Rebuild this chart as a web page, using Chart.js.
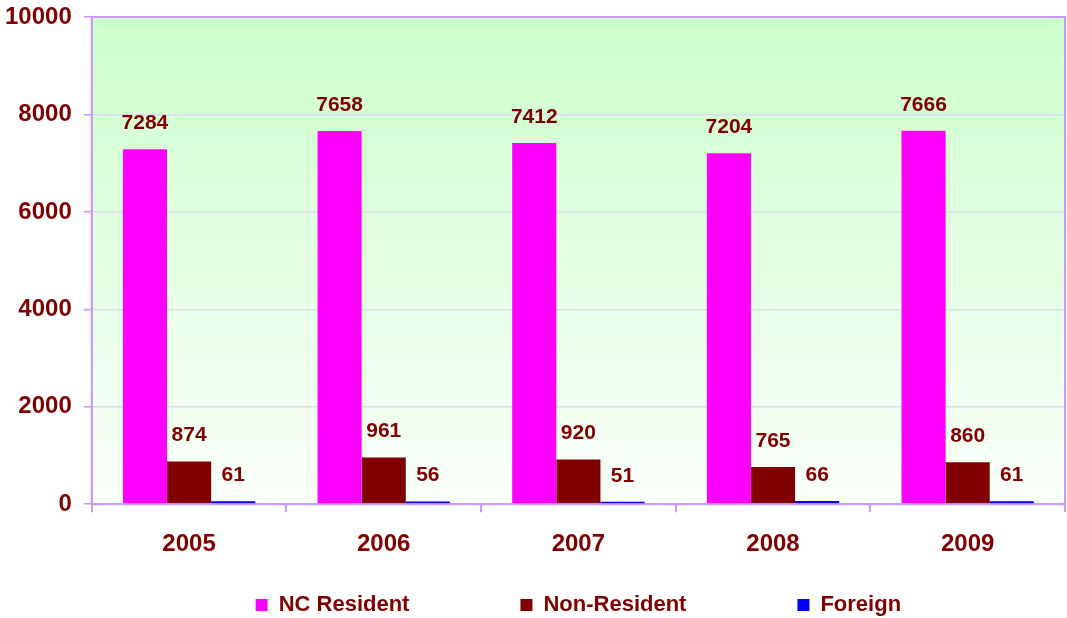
<!DOCTYPE html>
<html lang="en">
<head>
    <meta charset="UTF-8">
    <title>Resident / Non-Resident / Foreign 2005-2009</title>
    <script src="https://cdn.jsdelivr.net/npm/chart.js"></script>
    <style>
        html, body { margin: 0; padding: 0; background: #ffffff; }
        .chart-container { width: 1067px; height: 618px; position: relative; }
    </style>
</head>
<body>
    <div class="chart-container">
        <canvas id="yearChart"></canvas>
    </div>

    <script>
        const years = ['2005', '2006', '2007', '2008', '2009'];
        const ncResident = [7284, 7658, 7412, 7204, 7666];
        const nonResident = [874, 961, 920, 765, 860];
        const foreign = [61, 56, 51, 66, 61];
        const yTicks = [0, 2000, 4000, 6000, 8000, 10000];

        const labelColor = '#800000';
        const fontFamily = '"Liberation Sans", Arial, sans-serif';

        // green-to-white plot background and the lavender frame
        const plotArea = {
            id: 'plotArea',
            beforeDraw(chart) {
                const { ctx, chartArea: a } = chart;
                const g = ctx.createLinearGradient(0, a.top, 0, a.bottom);
                g.addColorStop(0, '#ccffcc');
                g.addColorStop(1, '#fafffa');
                ctx.save();
                ctx.fillStyle = g;
                ctx.fillRect(a.left, a.top, a.right - a.left, a.bottom - a.top);
                ctx.restore();
            },
            afterDraw(chart) {
                const { ctx, chartArea: a } = chart;
                ctx.save();
                ctx.strokeStyle = '#cc99ff';
                ctx.lineWidth = 2;
                ctx.strokeRect(a.left, a.top, a.right - a.left, a.bottom - a.top);
                ctx.restore();
            }
        };

        // value labels above every bar
        const barValues = {
            id: 'barValues',
            afterDatasetsDraw(chart) {
                const { ctx } = chart;
                ctx.save();
                ctx.font = 'bold 21px ' + fontFamily;
                ctx.fillStyle = labelColor;
                ctx.textAlign = 'center';
                ctx.textBaseline = 'middle';
                chart.data.datasets.forEach((ds, i) => {
                    chart.getDatasetMeta(i).data.forEach((bar, j) => {
                        ctx.fillText(String(ds.data[j]), bar.x, bar.y - 26);
                    });
                });
                ctx.restore();
            }
        };

        // wide-spaced legend under the axis, centred on the plot area
        const wideLegend = {
            id: 'wideLegend',
            afterDraw(chart) {
                const { ctx, chartArea: a } = chart;
                const box = 12, gap = 11, spacing = 111, y = 605;
                ctx.save();
                ctx.font = 'bold 22px ' + fontFamily;
                ctx.textBaseline = 'middle';
                const items = chart.data.datasets.map(ds => ({
                    text: ds.label, color: ds.backgroundColor,
                    w: box + gap + ctx.measureText(ds.label).width
                }));
                const total = items.reduce((s, it) => s + it.w, 0) + spacing * (items.length - 1);
                let x = (a.left + a.right) / 2 - total / 2;
                items.forEach(it => {
                    ctx.fillStyle = it.color;
                    ctx.fillRect(x, y - box / 2, box, box);
                    ctx.fillStyle = labelColor;
                    ctx.fillText(it.text, x + box + gap, y);
                    x += it.w + spacing;
                });
                ctx.restore();
            }
        };

        new Chart(document.getElementById('yearChart').getContext('2d'), {
            type: 'bar',
            data: {
                labels: years,
                datasets: [
                    { label: 'NC Resident', data: ncResident, backgroundColor: '#ff00ff' },
                    { label: 'Non-Resident', data: nonResident, backgroundColor: '#800000' },
                    { label: 'Foreign', data: foreign, backgroundColor: '#0000ff' }
                ]
            },
            options: {
                responsive: true,
                maintainAspectRatio: false,
                animation: false,
                datasets: {
                    bar: { categoryPercentage: 0.68, barPercentage: 1.0 }
                },
                layout: { padding: { top: 17, right: 2, left: 5, bottom: 41 } },
                scales: {
                    x: {
                        grid: {
                            drawOnChartArea: false,
                            drawTicks: true,
                            tickLength: 8,
                            tickColor: '#cc99ff',
                            lineWidth: 2
                        },
                        border: { color: '#cc99ff', width: 2 },
                        ticks: {
                            color: labelColor,
                            padding: 18,
                            font: { family: fontFamily, size: 24, weight: 'bold' }
                        }
                    },
                    y: {
                        min: 0,
                        max: 10000,
                        afterBuildTicks(axis) {
                            axis.ticks = yTicks.map(v => ({ value: v }));
                        },
                        afterFit(scale) {
                            scale.width -= 12;
                            scale.paddingTop = 0;
                            scale.paddingBottom = 0;
                        },
                        grid: {
                            color: '#dcdcf0',
                            lineWidth: 1.5,
                            tickLength: 8,
                            tickColor: '#cc99ff'
                        },
                        border: { color: '#cc99ff', width: 2 },
                        ticks: {
                            color: labelColor,
                            padding: 12,
                            callback: v => String(v),
                            font: { family: fontFamily, size: 24, weight: 'bold' }
                        }
                    }
                },
                plugins: {
                    legend: { display: false },
                    tooltip: { enabled: false }
                }
            },
            plugins: [plotArea, barValues, wideLegend]
        });
    </script>
</body>
</html>
